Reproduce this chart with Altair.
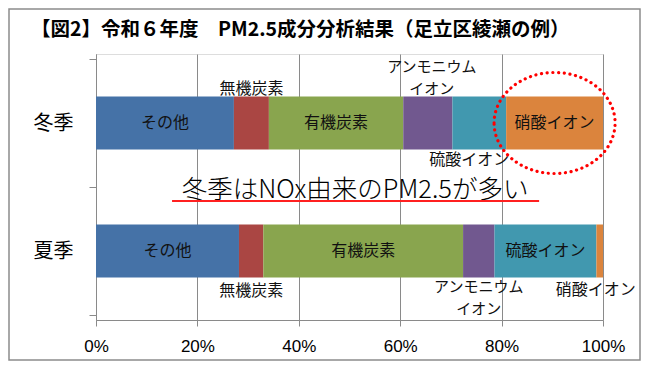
import altair as alt
import pandas as pd

# ---------------- data ----------------
seasons = ["冬季", "夏季"]
components = ["その他", "無機炭素", "有機炭素", "アンモニウムイオン", "硫酸イオン", "硝酸イオン"]
winter_share = [27.2, 6.9, 26.5, 9.7, 10.6, 19.1]
summer_share = [28.2, 4.8, 39.4, 6.2, 20.1, 1.3]
x_ticks = [0, 20, 40, 60, 80, 100]

title_text = "【図2】令和６年度　PM2.5成分分析結果（足立区綾瀬の例）"
note_text = "冬季はNOx由来のPM2.5が多い"
highlight = ("冬季", "硝酸イオン")

# ---------------- styles ----------------
colors = ["#4572A7", "#AA4643", "#89A54E", "#71588F", "#4198AF", "#DB843D"]
label_lines = {"アンモニウムイオン": ["アンモニウム", "イオン"]}
JP = "Noto Sans CJK JP"
GRID = "#8a8a8a"
LINE_H = 22
# (season, component) -> (dx, dy) label offset in pixels from the bar segment centre
label_offsets = {
    ("冬季", "その他"): (0, 0),
    ("冬季", "無機炭素"): (0, -34),
    ("冬季", "有機炭素"): (0, 0),
    ("冬季", "アンモニウムイオン"): (4, -45),
    ("冬季", "硫酸イオン"): (-10, 37),
    ("冬季", "硝酸イオン"): (0, 0),
    ("夏季", "その他"): (0, 0),
    ("夏季", "無機炭素"): (0, 40),
    ("夏季", "有機炭素"): (0, 0),
    ("夏季", "アンモニウムイオン"): (0, 47),
    ("夏季", "硫酸イオン"): (0, 0),
    ("夏季", "硝酸イオン"): (-4, 39),
}
note_pos = {"x": 51.1, "y": 1.025, "x1": 15.0, "x2": 87.4, "yline": 1.11}
title_pos = (-65, -24)

# ---------------- table ----------------
rows = []
for si, (season, shares) in enumerate(zip(seasons, [winter_share, summer_share])):
    start = 0.0
    for comp, v in zip(components, shares):
        rows.append({
            "season": season, "pos": si + 0.5, "component": comp,
            "value": v, "start": start, "end": start + v, "mid": start + v / 2,
        })
        start += v
df = pd.DataFrame(rows)

y_label_expr = " : ".join(
    f"datum.value == {i + 0.5} ? '{s}'" for i, s in enumerate(seasons)
) + " : ''"

x_enc = alt.X(
    "start:Q",
    scale=alt.Scale(domain=[0, 100], nice=False),
    axis=alt.Axis(
        values=x_ticks, labelExpr="datum.value + '%'", title=None,
        grid=True, gridColor=GRID, gridWidth=1, labelFlush=False,
        domainColor=GRID, tickColor=GRID, tickSize=6,
        labelFont="Liberation Sans", labelFontSize=17, labelColor="#000000",
        labelPadding=12,
    ),
)
y_scale = alt.Scale(domain=[0, 2], reverse=True, nice=False, zero=False)
y_enc = alt.Y(
    "pos:Q", scale=y_scale,
    axis=alt.Axis(
        values=[0, 0.5, 1, 1.5, 2], labelExpr=y_label_expr, title=None, grid=False,
        domainColor=GRID, tickColor=GRID, tickSize=7,
        tickOpacity=alt.condition("datum.value % 1 != 0", alt.value(0), alt.value(1)),
        labelFont=JP, labelFontSize=20, labelColor="#000000", labelPadding=16,
    ),
)

base = alt.Chart(df)

frame = alt.Chart(pd.DataFrame({"a": [0]})).mark_rect(
    fill=None, stroke="#8c8c8c", strokeWidth=1.5
).encode(x=alt.value(-87), x2=alt.value(544), y=alt.value(-45), y2=alt.value(306))

title = alt.Chart(pd.DataFrame({"t": [title_text]})).mark_text(
    font=JP, fontSize=19.5, fontWeight="bold", color="#000000", align="left", baseline="middle"
).encode(x=alt.value(title_pos[0]), y=alt.value(title_pos[1]), text="t:N")

bars = base.mark_bar(size=53).encode(
    x=x_enc, x2="end:Q", y=y_enc,
    color=alt.Color("component:N", scale=alt.Scale(domain=components, range=colors), legend=None),
)

label_layers = []
for (season, comp), (dx, dy) in label_offsets.items():
    sub = df[(df.season == season) & (df.component == comp)]
    lines = label_lines.get(comp, [comp])
    n = len(lines)
    fs = 16 if n == 1 else 15
    for li, line in enumerate(lines):
        line_dy = dy + (li - (n - 1) / 2) * LINE_H
        label_layers.append(
            alt.Chart(sub.assign(label=line)).mark_text(
                font=JP, fontSize=fs, color="#111111", baseline="middle", align="center",
                dx=dx, dy=line_dy,
            ).encode(x="mid:Q", y=alt.Y("pos:Q", scale=y_scale), text="label:N")
        )

ellipse_path = ("M -1 0 C -1 -0.461 -0.552 -0.835 0 -0.835 C 0.552 -0.835 1 -0.461 1 0 "
                "C 1 0.461 0.552 0.835 0 0.835 C -0.552 0.835 -1 0.461 -1 0 Z")
hl = df[(df.season == highlight[0]) & (df.component == highlight[1])]
ellipse = alt.Chart(hl).mark_point(
    shape=ellipse_path, size=121 * 121, filled=False, stroke="#FF0000",
    strokeWidth=3.2, strokeDash=[0.1, 5.6], strokeCap="round", opacity=1, dx=2,
).encode(x="mid:Q", y=alt.Y("pos:Q", scale=y_scale))

note_df = pd.DataFrame({"text": [note_text], "x": [note_pos["x"]], "y": [note_pos["y"]],
                        "x1": [note_pos["x1"]], "x2": [note_pos["x2"]], "yl": [note_pos["yline"]]})
note = alt.Chart(note_df).mark_text(
    font=JP, fontSize=25.5, fontWeight=300, color="#000000", align="center", baseline="middle"
).encode(x="x:Q", y=alt.Y("y:Q", scale=y_scale), text="text:N")
underline = alt.Chart(note_df).mark_rule(color="#FF2020", strokeWidth=2).encode(
    x="x1:Q", x2="x2:Q", y=alt.Y("yl:Q", scale=y_scale)
)

chart = alt.layer(frame, title, bars, *label_layers, ellipse, note, underline).properties(
    width=507, height=266,
    autosize=alt.AutoSizeParams(type="none"),
    padding={"left": 88, "top": 46, "right": 39, "bottom": 41},
).configure_view(stroke="#b0b0b0", strokeWidth=1).configure(background="white")

chart.save("out.html", embed_options={"renderer": "svg", "actions": False})
